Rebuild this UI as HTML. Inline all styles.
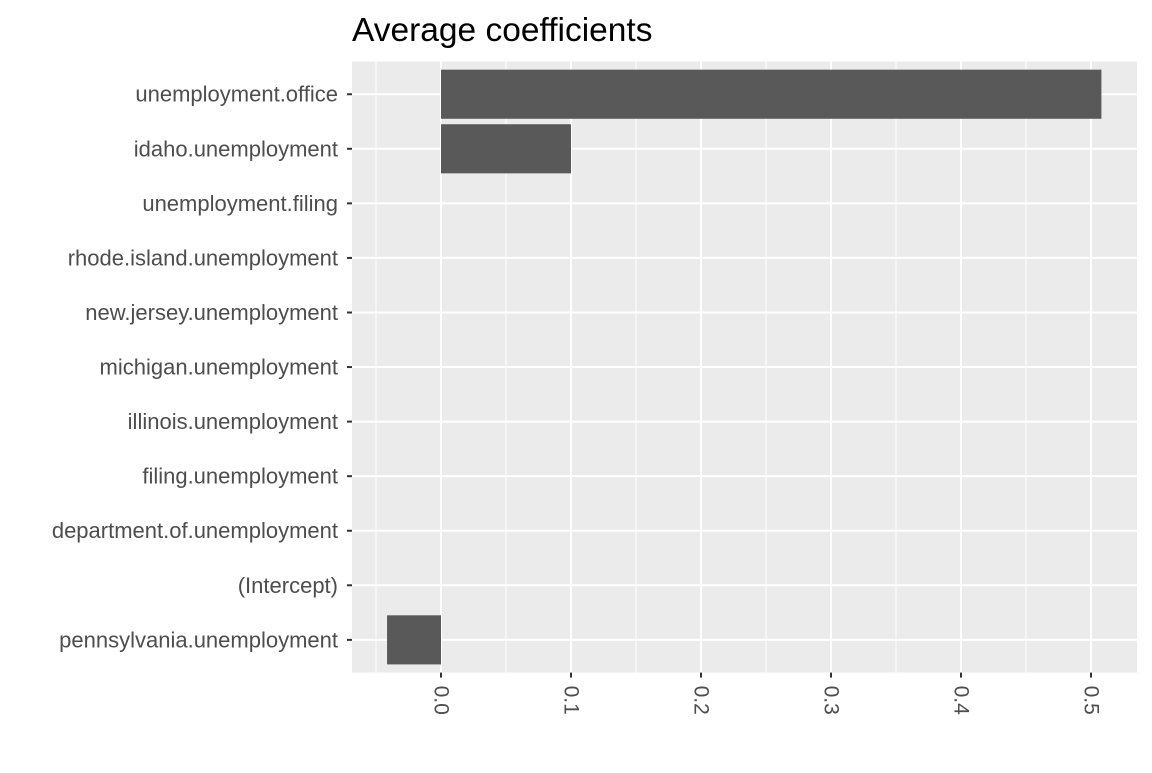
<!DOCTYPE html>
<html><head><style>
body{margin:0;background:#fff;font-family:"Liberation Sans",sans-serif}
</style></head><body>
<svg width="1152" height="768" id="c">
<text x="352" y="41" font-size="33.5" fill="#000">Average coefficients</text>
</svg>
<script>
const categories=["unemployment.office","idaho.unemployment","unemployment.filing","rhode.island.unemployment","new.jersey.unemployment","michigan.unemployment","illinois.unemployment","filing.unemployment","department.of.unemployment","(Intercept)","pennsylvania.unemployment"];
const values=[0.508,0.1,0,0,0,0,0,0,0,0,-0.0415];
const ticks=[0,0.1,0.2,0.3,0.4,0.5];
const tickLabels=["0.0","0.1","0.2","0.3","0.4","0.5"];
const NS="http://www.w3.org/2000/svg",svg=document.getElementById('c');
const L=352,R=1137,T=61.5,B=672.6;
const x=v=>441+v*1300;
const step=(B-T)/(categories.length+0.2);
const y=i=>T+0.6*step+i*step;
function mk(t,a,p){const e=document.createElementNS(NS,t);for(const k in a)e.setAttribute(k,a[k]);(p||svg).appendChild(e);return e;}
const bg=mk('rect',{x:L,y:T,width:R-L,height:B-T,fill:'#ebebeb'});


for(let i=0;i<ticks.length+1;i++){const v=ticks[0]-0.05+i*0.1;if(x(v)>L&&x(v)<R){const g=mk('line',{x1:x(v),x2:x(v),y1:T,y2:B,stroke:'#fff','stroke-width':1});}}
ticks.forEach((v,i)=>{const g=mk('line',{x1:x(v),x2:x(v),y1:T,y2:B,stroke:'#fff','stroke-width':2});
const tk=mk('line',{x1:x(v),x2:x(v),y1:B,y2:B+5,stroke:'#333','stroke-width':2});
const t=mk('text',{x:0,y:0,'font-size':21,fill:'#4d4d4d','dominant-baseline':'central',transform:`translate(${x(v)},${B+13}) rotate(90)`});t.textContent=tickLabels[i];});
categories.forEach((c,i)=>{const cy=y(i);
const g=mk('line',{x1:L,x2:R,y1:cy,y2:cy,stroke:'#fff','stroke-width':2});
const tk=mk('line',{x1:L-5,x2:L,y1:cy,y2:cy,stroke:'#333','stroke-width':2});
const t=mk('text',{x:L-14,y:cy,'font-size':22,fill:'#4d4d4d','text-anchor':'end','dominant-baseline':'central'});t.textContent=c;
const v=values[i];if(v!==0){const h=step*0.9;const b=mk('rect',{x:Math.min(x(0),x(v)),y:cy-h/2,width:Math.abs(x(v)-x(0)),height:h,fill:'#595959'});}});
</script>
</body></html>
